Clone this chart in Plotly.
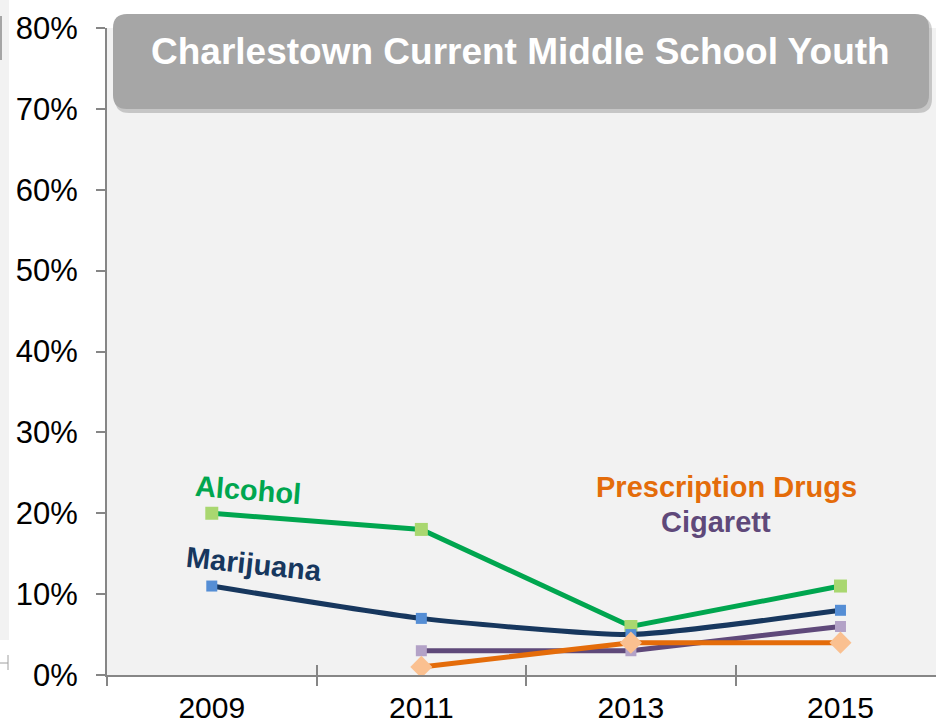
import plotly.graph_objects as go

years = ["2009", "2011", "2013", "2015"]
alcohol = [20, 18, 6, 11]
marijuana = [11, 7, 5, 8]
cigarett = [None, 3, 3, 6]
prescription = [None, 1, 4, 4]
y_ticks = [0, 10, 20, 30, 40, 50, 60, 70, 80]
y_tick_labels = [f"{v}%" for v in y_ticks]
title_text = "Charlestown Current Middle School Youth"

W, H = 936, 725
L, R, T, B = 107, 0, 28, 50
PW, PH = W - L - R, H - T - B
FONT = "Liberation Sans, Arial, sans-serif"


def px(x):
    return (x - L) / PW


def py(y):
    return (H - B - y) / PH


def rrect(x0, y0, x1, y1, r):
    pts = [
        ("M", [(x0 + r, y0)]),
        ("L", [(x1 - r, y0)]),
        ("Q", [(x1, y0), (x1, y0 + r)]),
        ("L", [(x1, y1 - r)]),
        ("Q", [(x1, y1), (x1 - r, y1)]),
        ("L", [(x0 + r, y1)]),
        ("Q", [(x0, y1), (x0, y1 - r)]),
        ("L", [(x0, y0 + r)]),
        ("Q", [(x0, y0), (x0 + r, y0)]),
    ]
    s = ""
    for cmd, ps in pts:
        s += cmd + " " + " ".join(f"{px(a):.5f},{py(b):.5f}" for a, b in ps) + " "
    return s + "Z"


fig = go.Figure()

fig.add_trace(go.Scatter(
    x=years, y=alcohol, mode="lines+markers", name="Alcohol",
    line=dict(color="#00A64F", width=5),
    marker=dict(symbol="square", size=13, color="#A9D770"),
))
fig.add_trace(go.Scatter(
    x=years, y=marijuana, mode="lines+markers", name="Marijuana",
    line=dict(color="#17375E", width=5, shape="spline", smoothing=0.5),
    marker=dict(symbol="square", size=11, color="#558ED5"),
))
fig.add_trace(go.Scatter(
    x=years, y=cigarett, mode="lines+markers", name="Cigarett",
    line=dict(color="#5F497A", width=5),
    marker=dict(symbol="square", size=11, color="#B3A2C7"),
))
fig.add_trace(go.Scatter(
    x=years, y=prescription, mode="lines+markers", name="Prescription Drugs",
    line=dict(color="#E46C0A", width=5),
    marker=dict(symbol="diamond", size=17, color="#FAC090"),
))
# empty trace to create the overlay axis for crossing tick marks
fig.add_trace(go.Scatter(x=[], y=[], xaxis="x2", showlegend=False, hoverinfo="skip"))

shapes = []
# left-edge remnants of neighbouring slide element
shapes.append(dict(type="rect", xref="paper", yref="paper", x0=px(0), x1=px(9),
                   y0=py(640), y1=py(0), fillcolor="#F2F2F2", line=dict(width=0), layer="below"))
shapes.append(dict(type="rect", xref="paper", yref="paper", x0=px(0), x1=px(2),
                   y0=py(60), y1=py(16), fillcolor="#A6A6A6", line=dict(width=0)))
shapes.append(dict(type="line", xref="paper", yref="paper", x0=px(8), x1=px(8),
                   y0=py(655), y1=py(670), line=dict(color="#A0A0A0", width=1)))
shapes.append(dict(type="line", xref="paper", yref="paper", x0=px(0), x1=px(8),
                   y0=py(663), y1=py(663), line=dict(color="#A0A0A0", width=1)))
# title box shadow and box
shapes.append(dict(type="path", xref="paper", yref="paper", path=rrect(115, 17, 932, 113, 14),
                   fillcolor="rgba(0,0,0,0.18)", line=dict(width=0)))
shapes.append(dict(type="path", xref="paper", yref="paper", path=rrect(113, 14, 929, 109, 14),
                   fillcolor="#A6A6A6", line=dict(width=0)))

annotations = [
    dict(text="<b>" + title_text + "</b>", x=px(520), y=py(51),
         font=dict(family=FONT, size=37, color="white")),
    dict(text="<b>Alcohol</b>", x=px(248), y=py(490), textangle=4.5,
         font=dict(family=FONT, size=29, color="#00A64F")),
    dict(text="<b>Marijuana</b>", x=px(254), y=py(564), textangle=6,
         font=dict(family=FONT, size=29, color="#17375E")),
    dict(text="<b>Prescription Drugs</b>", x=px(726), y=py(487),
         font=dict(family=FONT, size=29, color="#E46C0A")),
    dict(text="<b>Cigarett</b>", x=px(716), y=py(522),
         font=dict(family=FONT, size=29, color="#5F497A")),
]
for a in annotations:
    a.update(xref="paper", yref="paper", showarrow=False, xanchor="center", yanchor="middle")

x_hi = (936 - 212) / 209.5

fig.update_layout(
    width=W, height=H,
    margin=dict(l=L, r=R, t=T, b=B, pad=0, autoexpand=False),
    paper_bgcolor="white", plot_bgcolor="#F2F2F2",
    showlegend=False,
    font=dict(family=FONT, color="black"),
    shapes=shapes, annotations=annotations,
    xaxis=dict(
        type="category", categoryorder="array", categoryarray=years,
        range=[-0.5, x_hi], showgrid=False, zeroline=False,
        showline=True, linecolor="#868686", linewidth=2,
        ticks="outside", ticklen=9, tickwidth=2, tickcolor="#868686", tickson="boundaries",
        tickfont=dict(family=FONT, size=30, color="black"), ticklabelstandoff=5,
        automargin=False,
    ),
    xaxis2=dict(
        overlaying="x", range=[-0.5, x_hi], tickvals=[0.5, 1.5, 2.5],
        showticklabels=False, showgrid=False, zeroline=False, showline=False,
        ticks="inside", ticklen=10, tickwidth=2, tickcolor="#868686", side="bottom",
    ),
    yaxis=dict(
        range=[0, 80], tickvals=y_ticks, ticktext=y_tick_labels,
        showgrid=False, zeroline=False,
        showline=True, linecolor="#868686", linewidth=2,
        ticks="outside", ticklen=9, tickwidth=2, tickcolor="#868686",
        tickfont=dict(family=FONT, size=31, color="black"), ticklabelstandoff=12,
        automargin=False,
    ),
)

fig.write_html(
    "out.html",
    config={"displayModeBar": False},
    post_script="document.body.style.margin='0';document.body.style.overflow='hidden';",
)
